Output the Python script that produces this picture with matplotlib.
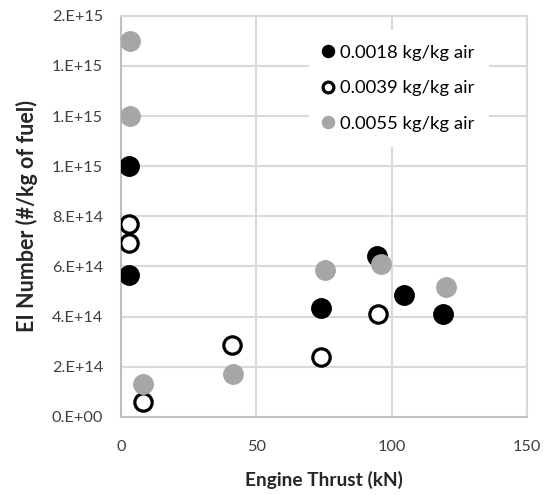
import matplotlib
matplotlib.use("Agg")
import matplotlib.pyplot as plt
from matplotlib.ticker import FixedLocator, FuncFormatter

plt.rcParams["font.family"] = ["Lato", "DejaVu Sans"]

# thrust (kN) and EI number (#/kg of fuel) per humidity level
thrust_0018 = [3, 3, 74, 94.5, 104.5, 119]
ei_0018 = [1.0e15, 5.65e14, 4.35e14, 6.4e14, 4.88e14, 4.1e14]

thrust_0039 = [3, 3, 8, 41, 74, 95]
ei_0039 = [7.7e14, 6.95e14, 0.6e14, 2.85e14, 2.37e14, 4.12e14]

thrust_0055 = [3.5, 3.5, 8, 41.5, 75.5, 96, 120]
ei_0055 = [1.5e15, 1.2e15, 1.32e14, 1.72e14, 5.85e14, 6.08e14, 5.16e14]

labels = ["0.0018 kg/kg air", "0.0039 kg/kg air", "0.0055 kg/kg air"]
y_ticks = [0, 2e14, 4e14, 6e14, 8e14, 1.0e15, 1.2e15, 1.4e15, 1.6e15]
x_ticks = [0, 50, 100, 150]

grid_color = "#D9D9D9"
gray = "#A6A6A6"

fig = plt.figure(figsize=(5.45, 4.95), dpi=100)
ax = fig.add_axes([0.222, 0.158, 0.745, 0.81])

ms = 14
ax.plot(thrust_0018, ei_0018, "o", ms=ms, color="black", label=labels[0], zorder=3)
ax.plot(thrust_0039, ei_0039, "o", ms=ms - 1.5, mfc="white", mec="black", mew=2.3,
        label=labels[1], zorder=3)
ax.plot(thrust_0055, ei_0055, "o", ms=ms, color=gray, label=labels[2], zorder=3)

ax.set_xlim(0, 150)
ax.set_ylim(0, 1.6e15)
ax.xaxis.set_major_locator(FixedLocator(x_ticks))
ax.yaxis.set_major_locator(FixedLocator(y_ticks))
ax.yaxis.set_major_formatter(FuncFormatter(lambda v, p: f"{v:.0E}".replace("E+", ".E+") if v else "0.E+00"))
ax.tick_params(length=0, labelsize=11.7, colors="#404040")
ax.tick_params(axis="y", pad=13)
ax.tick_params(axis="x", pad=17)

ax.grid(True, color=grid_color, lw=1.5)
ax.set_axisbelow(True)
for s in ax.spines.values():
    s.set_color(grid_color)
    s.set_linewidth(1.5)
ax.spines["left"].set_color("#BFBFBF")
ax.spines["bottom"].set_color("#BFBFBF")

ax.set_xlabel("Engine Thrust (kN)", fontsize=13.8, fontweight="bold", color="#262626", labelpad=12)
ax.set_ylabel("EI Number (#/kg of fuel)", fontsize=15.5, fontweight="bold", color="#262626", labelpad=10)

leg = ax.legend(loc="upper left", bbox_to_anchor=(0.462, 0.965), frameon=True, framealpha=1,
                edgecolor="white", fontsize=13.3, markerscale=0.62, handlelength=0.55,
                handletextpad=0.35, labelspacing=1.06, borderpad=0.8, borderaxespad=0)
leg.get_frame().set_linewidth(0)

fig.savefig("out.png", dpi=100)
